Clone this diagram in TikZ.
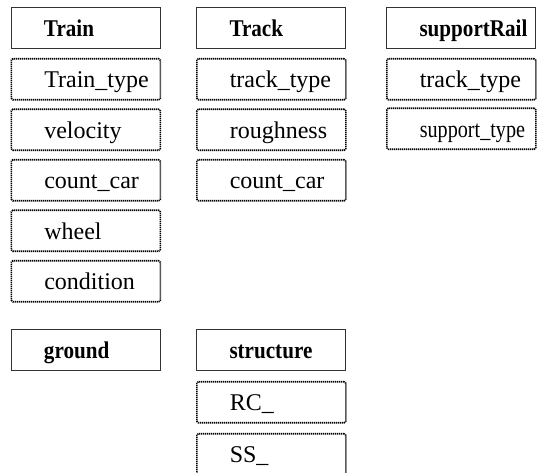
\documentclass[tikz,border=0pt]{standalone}
\usepackage{fontspec}
\setmainfont{Liberation Serif}
\begin{document}
\begin{tikzpicture}[x=1pt,y=-1pt,
  cell/.style={anchor=north west, inner sep=0pt, text width=149pt, align=left,
    text height=29pt, text depth=12pt, font=\fontsize{24}{24}\selectfont},
  headbox/.style={cell, draw=black!80, line width=1pt},
  attrbox/.style={cell, draw=black, line width=1.6pt, dash pattern=on 1.2pt off 0.8pt, rounded corners=1.5pt}]
\newcommand\hd[1]{\hspace*{33pt}\scalebox{0.88}[1]{\bfseries #1}}
\newcommand\at[1]{\hspace*{33pt}#1}
\useasboundingbox (0,0) rectangle (539,473);
\clip (0,0) rectangle (539,473);
% column 1
\node[headbox] (train) at (10.5,7) {\hd{Train}};
\node[attrbox] (traintype) at (10.5,58) {\at{Train\_type}};
\node[attrbox] (velocity) at (10.5,108.5) {\at{velocity}};
\node[attrbox] (countcarA) at (10.5,159) {\at{count\_car}};
\node[attrbox] (wheel) at (10.5,209.5) {\at{wheel}};
\node[attrbox] (condition) at (10.5,260) {\at{condition}};
\node[headbox] (ground) at (10.5,329) {\hd{ground}};
% column 2
\node[headbox] (track) at (196,7) {\hd{Track}};
\node[attrbox] (tracktypeA) at (196,58) {\at{track\_type}};
\node[attrbox] (roughness) at (196,108.5) {\at{roughness}};
\node[attrbox] (countcarB) at (196,159) {\at{count\_car}};
\node[headbox] (structure) at (196,329) {\hd{structure}};
\node[attrbox] (rc) at (196,381) {\at{RC\_}};
\node[attrbox] (ss) at (196,433) {\at{SS\_}};
% column 3
\node[headbox] (supportrail) at (386,7) {\hd{supportRail}};
\node[attrbox] (tracktypeB) at (386,58) {\at{track\_type}};
\node[attrbox] (supporttype) at (386,107.5) {\at{\scalebox{0.84}[1]{support\_type}}};
\end{tikzpicture}
\end{document}
